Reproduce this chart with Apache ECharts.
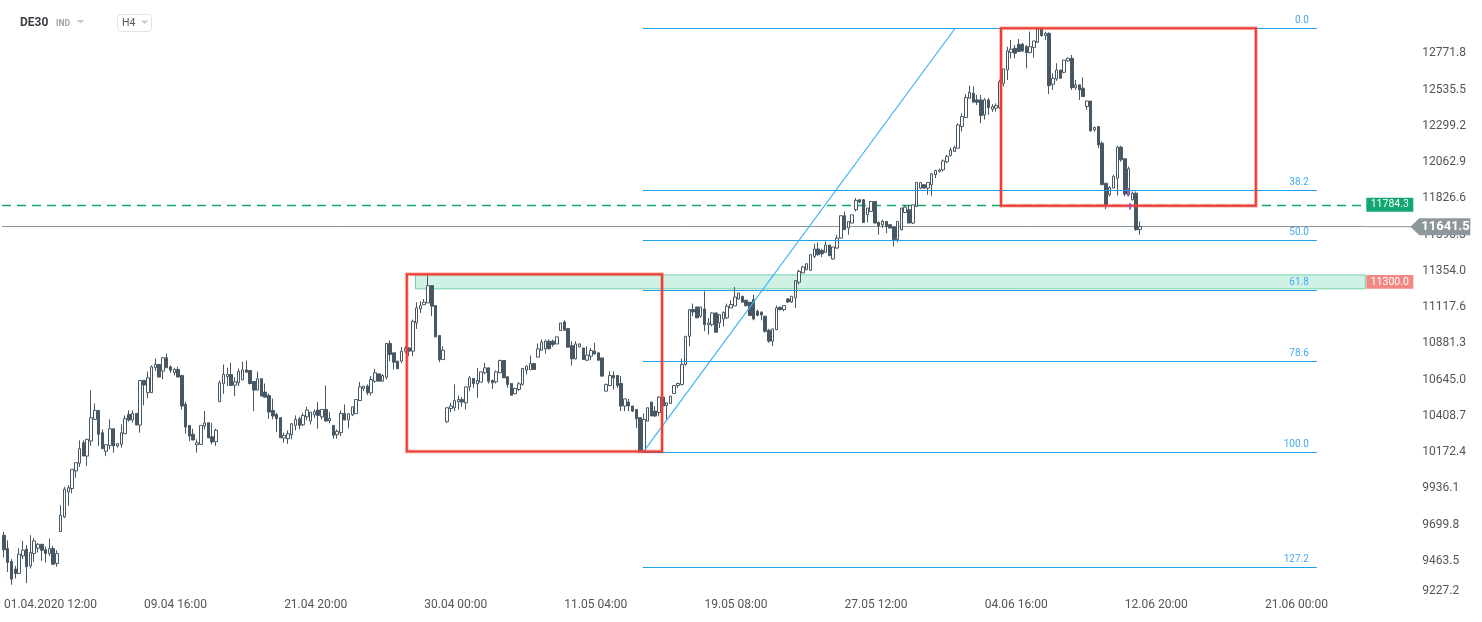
<!DOCTYPE html>
<html><head><meta charset="utf-8">
<script src="https://cdn.jsdelivr.net/npm/echarts@6/dist/echarts.min.js"></script>
<style>html,body{margin:0;padding:0;background:#fff}#c{width:1482px;height:622px}</style>
</head><body><div id="c"></div>
<script>
// ---- data (H4 candles, DE30) ----
const opens = [
9630,9543,9459,9409,9380,9495,9539,9430,9511,9545,
9571,9535,9511,9543,9446,9654,9749,9912,9934,10049,
10099,10233,10146,10244,10385,10444,10298,10177,10216,10324,
10212,10222,10292,10418,10381,10424,10348,10639,10559,10559,
10722,10743,10700,10787,10728,10689,10711,10672,10483,10346,
10288,10220,10222,10342,10363,10272,10240,10500,10617,10663,
10678,10608,10624,10643,10708,10704,10632,10576,10650,10563,
10541,10443,10417,10396,10263,10259,10285,10346,10389,10350,
10402,10374,10415,10446,10402,10450,10376,10346,10285,10298,
10424,10381,10415,10422,10508,10587,10602,10558,10634,10682,
10634,10660,10880,10819,10765,10765,10830,10851,10830,11014,
11105,11133,11144,11257,11127,10932,10775,10370,10456,10461,
10500,10515,10493,10597,10652,10617,10628,10689,10721,10639,
10630,10689,10769,10663,10619,10552,10580,10613,10706,10710,
10749,10791,10836,10845,10895,10895,10877,10964,11020,10977,
10866,10780,10858,10851,10771,10797,10830,10819,10786,10569,
10606,10671,10671,10619,10472,10498,10472,10450,10396,10172,
10374,10498,10439,10430,10530,10476,10489,10554,10606,10613,
10743,10927,11101,11118,11058,11105,11003,11003,11079,11014,
11040,11047,11112,11125,11170,11188,11162,11149,11166,11090,
11084,11058,10966,10895,10971,11116,11101,11170,11151,11177,
11279,11340,11361,11357,11448,11496,11487,11474,11522,11431,
11502,11567,11713,11633,11665,11752,11817,11817,11719,11741,
11806,11669,11654,11676,11654,11639,11557,11622,11734,11752,
11665,11774,11893,11915,11893,11915,11980,12002,12012,12065,
12106,12132,12153,12294,12353,12479,12511,12468,12468,12370,
12468,12407,12414,12418,12576,12663,12778,12804,12830,12830,
12815,12776,12809,12843,12930,12887,12902,12570,12605,12663,
12648,12722,12739,12548,12566,12544,12425,12461,12273,12294,
12186,11925,11850,11893,11958,12160,12084,11850,11817,11860,
11622];
const closes = [
9535,9452,9344,9380,9506,9532,9424,9517,9593,9571,
9532,9511,9543,9441,9511,9760,9930,9940,10060,10103,
10194,10146,10255,10396,10444,10288,10194,10220,10324,10212,
10227,10298,10390,10381,10424,10348,10639,10609,10656,10728,
10743,10661,10787,10722,10706,10711,10661,10472,10335,10277,
10251,10233,10346,10363,10264,10238,10314,10624,10678,10678,
10606,10630,10699,10708,10693,10619,10576,10650,10537,10530,
10433,10407,10389,10265,10281,10291,10357,10385,10346,10411,
10446,10432,10435,10411,10450,10374,10391,10281,10307,10424,
10381,10422,10467,10515,10597,10602,10558,10645,10689,10634,
10671,10880,10808,10758,10715,10830,10850,10830,11025,11112,
11127,11149,11257,11123,10923,10775,10836,10461,10472,10508,
10515,10498,10597,10656,10619,10639,10695,10721,10634,10624,
10695,10769,10656,10613,10543,10587,10617,10717,10732,10749,
10710,10845,10890,10895,10845,10873,10923,11014,10966,10856,
10780,10877,10877,10775,10804,10834,10812,10771,10667,10613,
10671,10656,10606,10472,10519,10472,10439,10389,10172,10385,
10461,10407,10407,10530,10472,10493,10537,10606,10619,10743,
10927,11101,11086,11047,11118,11003,11014,11079,10953,11068,
11082,11123,11134,11183,11209,11149,11127,11062,11040,11064,
11066,10960,10895,10975,11112,11101,11127,11151,11188,11290,
11350,11379,11400,11459,11496,11459,11465,11522,11452,11509,
11567,11713,11622,11676,11719,11813,11802,11669,11763,11806,
11665,11648,11676,11643,11633,11557,11676,11763,11769,11665,
11784,11930,11930,11893,11930,11986,12008,12012,12070,12100,
12142,12158,12305,12359,12483,12518,12453,12453,12366,12468,
12418,12424,12431,12587,12670,12787,12800,12772,12783,12787,
12776,12815,12852,12930,12887,12902,12561,12609,12663,12609,
12728,12739,12548,12566,12533,12490,12461,12266,12288,12175,
11915,11785,11897,11969,12160,12077,11854,12019,11860,11622,
11641.5];
const lows = [
9485,9391,9307,9348,9380,9474,9318,9413,9456,9517,
9463,9452,9495,9435,9424,9654,9741,9821,9903,10005,
10075,10146,10081,10212,10381,10212,10194,10146,10190,10168,
10201,10201,10292,10370,10363,10348,10298,10476,10522,10559,
10700,10661,10646,10722,10689,10672,10661,10450,10292,10244,
10251,10168,10222,10320,10264,10222,10212,10500,10552,10602,
10602,10537,10602,10643,10693,10613,10439,10576,10537,10530,
10389,10385,10302,10265,10233,10226,10255,10313,10320,10341,
10380,10352,10396,10324,10385,10374,10359,10259,10259,10276,
10381,10326,10406,10422,10504,10569,10543,10541,10623,10634,
10630,10645,10765,10710,10715,10754,10815,10797,10797,10975,
11079,11133,11144,11058,10923,10758,10775,10363,10432,10439,
10450,10467,10450,10569,10591,10526,10628,10678,10619,10584,
10619,10689,10656,10591,10543,10552,10569,10606,10678,10706,
10710,10791,10836,10814,10845,10858,10877,10964,10966,10856,
10736,10775,10855,10775,10765,10771,10808,10765,10667,10569,
10602,10580,10590,10439,10439,10439,10433,10330,10170,10172,
10374,10407,10400,10405,10385,10385,10489,10554,10590,10606,
10736,10862,11058,11047,11047,10960,10938,10992,10953,10981,
10990,11040,11112,11125,11166,11149,11120,11062,11031,11058,
11031,10950,10885,10862,10966,11095,11090,11144,11144,11112,
11264,11340,11361,11357,11437,11452,11444,11474,11452,11426,
11496,11567,11622,11589,11665,11741,11795,11665,11669,11741,
11665,11589,11633,11600,11628,11513,11539,11615,11730,11665,
11659,11769,11886,11890,11850,11843,11958,11995,12000,12055,
12099,12127,12153,12262,12353,12479,12453,12435,12316,12340,
12370,12390,12392,12410,12555,12598,12739,12739,12783,12780,
12674,12772,12744,12843,12880,12859,12505,12533,12592,12609,
12642,12718,12533,12533,12468,12490,12403,12262,12262,12153,
11915,11756,11839,11893,11845,12066,11839,11839,11813,11615,
11589];
const highs = [
9652,9597,9474,9430,9545,9593,9565,9630,9611,9578,
9571,9556,9608,9561,9532,9825,9945,9956,10060,10103,
10248,10248,10259,10574,10489,10444,10320,10220,10385,10324,
10227,10353,10411,10444,10444,10424,10639,10639,10698,10737,
10782,10743,10787,10815,10737,10722,10728,10672,10500,10346,
10324,10255,10346,10440,10363,10363,10324,10639,10743,10722,
10754,10660,10717,10762,10769,10704,10632,10697,10650,10619,
10554,10521,10428,10396,10298,10313,10357,10411,10402,10428,
10467,10432,10450,10498,10450,10606,10432,10346,10320,10443,
10482,10422,10467,10515,10630,10602,10613,10667,10715,10682,
10680,10880,10899,10819,10765,10856,10862,10856,11036,11149,
11155,11170,11322,11257,11127,10932,10862,10461,10493,10613,
10541,10530,10597,10667,10652,10721,10695,10754,10721,10645,
10704,10775,10769,10663,10619,10591,10628,10721,10737,10801,
10749,10880,10906,10906,10906,10906,10923,11014,11031,10977,
10895,10895,10880,10851,10862,10851,10884,10819,10786,10619,
10699,10699,10671,10667,10519,10519,10472,10450,10396,10424,
10461,10498,10472,10535,10530,10493,10537,10606,10625,10780,
10927,11105,11140,11118,11118,11220,11047,11084,11079,11068,
11090,11140,11162,11248,11209,11188,11165,11149,11198,11101,
11090,11058,10975,10975,11127,11120,11127,11177,11188,11290,
11361,11387,11400,11459,11530,11539,11496,11546,11522,11509,
11589,11713,11741,11676,11719,11828,11817,11821,11763,11806,
11806,11676,11687,11676,11658,11643,11676,11763,11784,11784,
11784,11930,11930,11920,11930,11990,12012,12020,12080,12110,
12158,12169,12316,12381,12505,12561,12555,12500,12500,12480,
12480,12440,12446,12600,12670,12815,12859,12826,12865,12840,
12826,12913,12852,12930,12936,12913,12908,12642,12707,12663,
12728,12744,12761,12598,12566,12615,12461,12461,12294,12294,
12197,11925,11904,11980,12169,12169,12084,12034,11871,11871,
11676];

const tickLabels = ['01.04.2020 12:00','09.04 16:00','21.04 20:00','30.04 00:00','11.05 04:00',
                    '19.05 08:00','27.05 12:00','04.06 16:00','12.06 20:00','21.06 00:00'];
const tickStep = 37;          // candles between time labels
const slotCount = 360;        // candle slots incl. empty future space
const yTickStart = 9227.165, yTickStep = 236.31, yTop = 13119.3;

const fibLevels = [0, 38.2, 50, 61.8, 78.6, 100, 127.2];
const fibHigh = 12935, fibLow = 10170;
const fibFrom = 168.75, fibTo = 346.7, trendTo = 251.2;   // candle-slot positions
const lastPrice = 11641.5;
const dashedLevel = 11784.3;
const zoneLabel = 11300.0, zoneTop = 11327, zoneBottom = 11236, zoneFrom = 108.7;
const boxes = [[106.4, 11331, 173.8, 10175], [263.3, 12935, 330.6, 11778]];
const purpleMarks = [[296.8, 11895, 296.8, 11840], [297.3, 11795, 297.3, 11752]];

// ---- chart ----
const FONT = 'Roboto, "Noto Sans", sans-serif';
const CANDLE = '#475763';
const FIB = '#1f9fe8';
const chart = echarts.init(document.getElementById('c'), null, {renderer: 'canvas', width: 1482, height: 622});
const candleData = opens.map((o, i) => [o, closes[i], lows[i], highs[i]]);
const cats = Array.from({length: slotCount}, (_, i) => String(i));
const fibPrice = l => fibHigh - l / 100 * (fibHigh - fibLow);
const R = slotCount - 0.5;

const fibLines = fibLevels.map(l => [
  {coord: [fibFrom, fibPrice(l)],
   label: {show: true, formatter: l.toFixed(1), position: 'insideEndTop', distance: [8, 3],
           color: '#45aaf2', fontSize: 10, fontFamily: FONT}},
  {coord: [fibTo, fibPrice(l)]}
]);

const boxAreas = [];
boxes.forEach(b => {
  boxAreas.push([{coord: [b[0], b[1]], itemStyle: {color: 'rgba(0,0,0,0)', borderColor: 'rgba(240,80,70,0.35)', borderWidth: 4}}, {coord: [b[2], b[3]]}]);
  boxAreas.push([{coord: [b[0], b[1]], itemStyle: {color: 'rgba(0,0,0,0)', borderColor: '#ee3b34', borderWidth: 2}}, {coord: [b[2], b[3]]}]);
});

const helper = (z, extra) => Object.assign({type: 'line', xAxisIndex: 1, yAxisIndex: 0, data: [], silent: true, z: z}, extra);

const option = {
  animation: false,
  backgroundColor: '#ffffff',
  grid: {left: 2, top: 0, right: 116.7, bottom: 25, containLabel: false, outerBoundsMode: 'none'},
  xAxis: [{
    type: 'category', data: cats, boundaryGap: true,
    axisLine: {show: false}, axisTick: {show: false}, splitLine: {show: false},
    axisLabel: {
      interval: i => i % tickStep === 0 && i / tickStep < tickLabels.length,
      formatter: (v, i) => tickLabels[i / tickStep] || '',
      align: 'left', margin: 2, color: '#555', fontSize: 12, fontFamily: FONT
    }
  }, {type: 'value', min: -0.5, max: R, show: false}],
  yAxis: {
    type: 'value', position: 'right', min: yTickStart, max: yTop, interval: yTickStep,
    axisLine: {show: false}, axisTick: {show: false}, splitLine: {show: false},
    axisLabel: {
      margin: 57, color: '#555', fontSize: 12, fontFamily: FONT, showMaxLabel: false,
      formatter: v => v > 12900 ? '' : (Math.abs(v - yTickStart) < 1e-6 ? '{lo|' + v.toFixed(1) + '}' : v.toFixed(1)),
      rich: {lo: {padding: [0, 0, 12, 0], fontSize: 12, color: '#555', fontFamily: FONT}}
    }
  },
  series: [
    helper(1, {
      markArea: {silent: true, z: 1, data: [[
        {coord: [zoneFrom, zoneTop], itemStyle: {color: '#cff2e5', borderColor: '#76d0aa', borderWidth: 1}},
        {coord: [R, zoneBottom]}]]},
      markLine: {silent: true, z: 1, symbol: ['none', 'none'], label: {show: false},
        lineStyle: {color: '#10a86f', type: [9, 6], width: 1.4, opacity: 1},
        data: [[{coord: [-0.5, dashedLevel]}, {coord: [R, dashedLevel]}]]}
    }),
    helper(1, {
      markLine: {silent: true, z: 1, symbol: ['none', 'none'], label: {show: false},
        lineStyle: {color: '#8a959b', type: 'solid', width: 1, opacity: 1},
        data: [[{coord: [-0.5, lastPrice]}, {coord: [R, lastPrice]}]]}
    }),
    {
      type: 'candlestick', xAxisIndex: 0, yAxisIndex: 0, data: candleData, barWidth: 3, z: 2,
      itemStyle: {color: '#ffffff', color0: CANDLE, borderColor: CANDLE, borderColor0: CANDLE, borderWidth: 1}
    },
    helper(5, {
      markLine: {silent: true, z: 5, symbol: ['none', 'none'],
        lineStyle: {color: FIB, type: 'solid', width: 1, opacity: 1},
        data: fibLines}
    }),
    helper(5, {
      markLine: {silent: true, z: 5, symbol: ['none', 'none'], label: {show: false},
        lineStyle: {color: '#3db4f2', type: 'solid', width: 1.2, opacity: 1},
        data: [[{coord: [fibFrom, fibLow]}, {coord: [trendTo, fibHigh]}]]}
    }),
    helper(6, {
      markLine: {silent: true, z: 6, symbol: ['none', 'none'], label: {show: false},
        lineStyle: {color: '#8e5ad8', type: 'solid', width: 2, opacity: 0.9},
        data: purpleMarks.map(m => [{coord: [m[0], m[1]]}, {coord: [m[2], m[3]]}])},
      markArea: {silent: true, z: 6, data: boxAreas}
    })
  ]
};
chart.setOption(option);

// ---- price tags & header ----
const py = v => chart.convertToPixel({yAxisIndex: 0}, v);
const edge = chart.convertToPixel({xAxisIndex: 1}, R);
const yG = py(dashedLevel), yP = py(lastPrice), yZt = py(zoneTop), yZb = py(zoneBottom);
const txt = (x, y, text, fill, font, align) => ({type: 'text', x: x, y: y, z: 101,
  style: {text: text, fill: fill, font: font, align: align || 'left', verticalAlign: 'middle',
          textAlign: align || 'left', textVerticalAlign: 'middle'}});
chart.setOption({graphic: [
  txt(20, 22.5, 'DE30', '#3a3f44', 'bold 12px Roboto'),
  txt(56, 23.5, 'IND', '#9aa4ad', 'bold 8.5px Roboto'),
  {type: 'polygon', shape: {points: [[76.5, 20], [84.5, 20], [80.5, 23.5]]}, style: {fill: '#c5cad0'}, z: 100},
  {type: 'rect', shape: {x: 117.5, y: 14.5, width: 34, height: 17, r: 3}, style: {fill: '#fff', stroke: '#e2e2e2', lineWidth: 1}, z: 100},
  txt(122, 23.5, 'H4', '#555', '10.5px Roboto'),
  {type: 'polygon', shape: {points: [[141, 20.5], [148.5, 20.5], [144.75, 24]]}, style: {fill: '#c5cad0'}, z: 101},

  {type: 'rect', shape: {x: edge + 1, y: yG - 7, width: 47, height: 14}, style: {fill: '#13a872'}, z: 100},
  txt(edge + 24.5, yG, dashedLevel.toFixed(1), '#fff', '10.5px Roboto', 'center'),
  {type: 'rect', shape: {x: edge + 1, y: yZt, width: 47, height: yZb - yZt}, style: {fill: '#f28884'}, z: 100},
  txt(edge + 24.5, (yZt + yZb) / 2, zoneLabel.toFixed(1), '#fff', '10.5px Roboto', 'center'),
  {type: 'line', shape: {x1: edge, y1: yP, x2: edge + 46, y2: yP}, style: {stroke: '#8a959b', lineWidth: 1}, z: 100},
  {type: 'polygon', shape: {points: [[edge + 45, yP], [edge + 54, yP - 8.5], [edge + 105, yP - 8.5], [edge + 105, yP + 8.5], [edge + 54, yP + 8.5]]},
   style: {fill: '#8d979c'}, z: 100},
  txt(edge + 56, yP + 0.5, lastPrice.toFixed(1), '#fff', 'bold 13px Roboto')
]});
</script>
</body></html>
